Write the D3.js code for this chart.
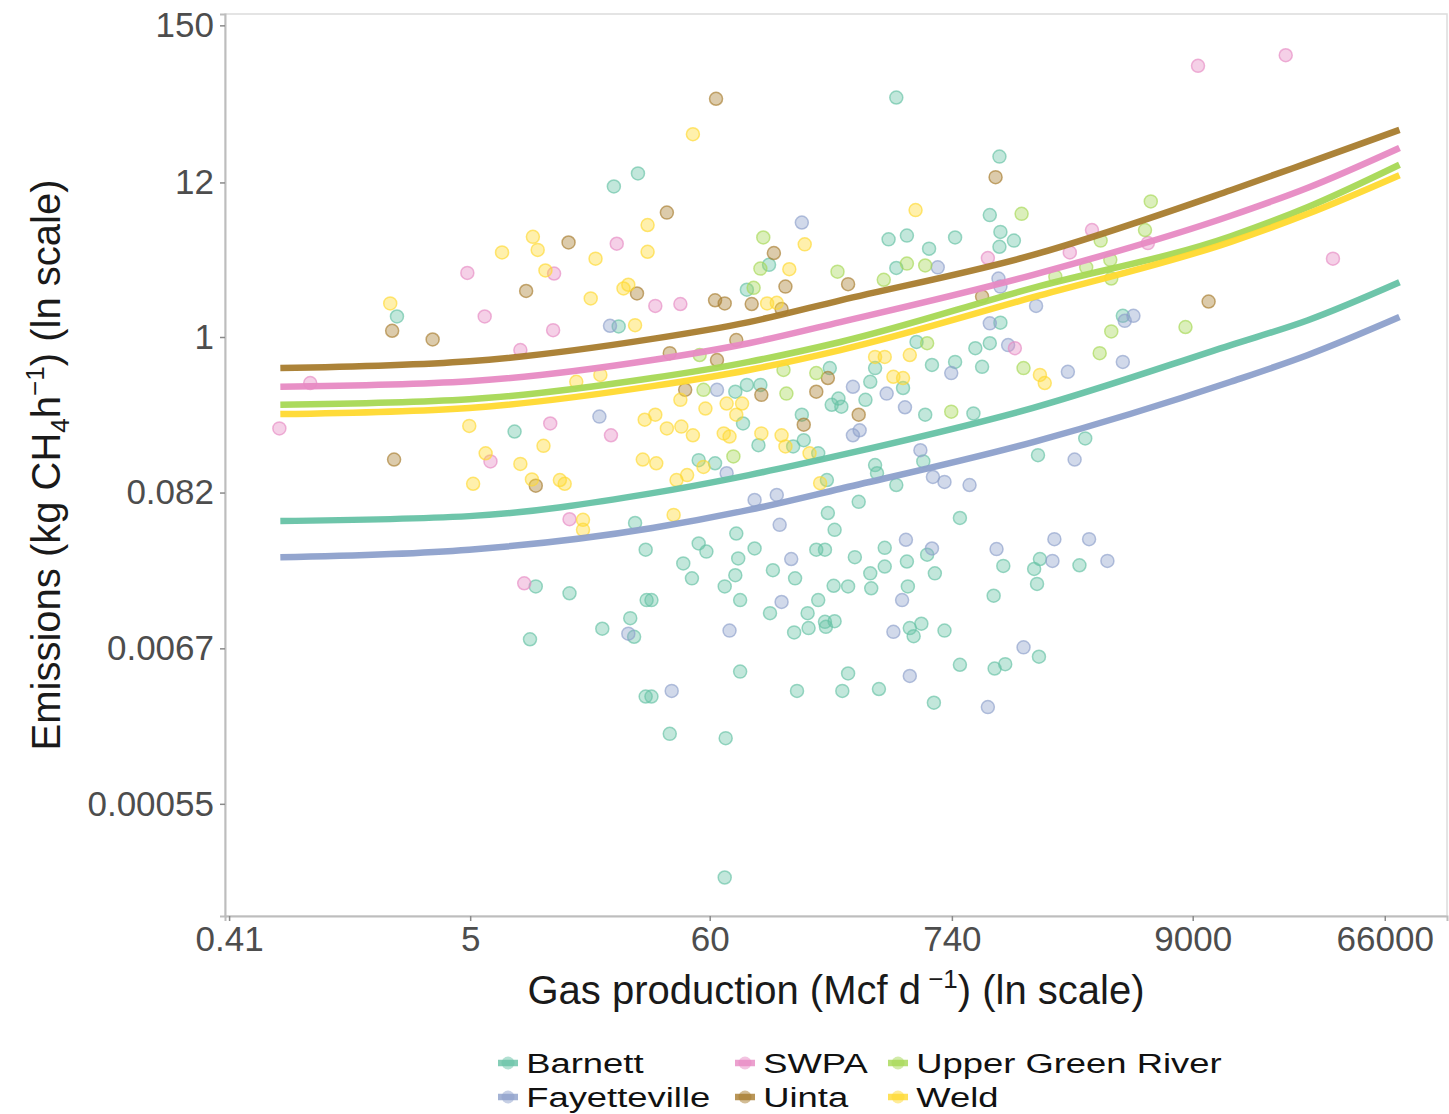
<!DOCTYPE html>
<html>
<head>
<meta charset="utf-8">
<script src="https://cdn.jsdelivr.net/npm/d3@7.9.0/dist/d3.min.js"></script>
<style>
  body { margin: 0; background: #fff; }
  svg { font-family: "Liberation Sans", Arial, sans-serif; }
</style>
</head>
<body>
<div id="chart"></div>
<script>
// basins, legend order and colours
const basins = ["Barnett", "Fayetteville", "SWPA", "Uinta", "Upper Green River", "Weld"];
const basinColors = ["#66c2a5", "#8da0cb", "#e78ac3", "#a87c2e", "#a6d854", "#ffd92f"];

// axis ticks (values shown on a ln scale)
const xTicks = [0.41, 5, 60, 740, 9000, 66000];
const xTickLabels = ["0.41", "5", "60", "740", "9000", "66000"];
const yTicks = [0.00055, 0.0067, 0.082, 1, 12, 150];
const yTickLabels = ["0.00055", "0.0067", "0.082", "1", "12", "150"];

// observations: [ln gas production, ln emissions]
const barnett = [[3.35,2.63],[3.10,2.42],[0.85,0.33],[3.15,0.17],[2.07,-1.52],[3.32,-2.99],[3.43,-3.42],[2.29,-4.01],[2.64,-4.12],[3.44,-4.23],[2.23,-4.86],[2.98,-4.69],[3.27,-4.52],[3.31,-4.82],[3.43,-5.78],[6.03,3.85],[7.10,2.90],[7.00,1.96],[4.71,1.16],[5.95,1.57],[6.14,1.63],[6.64,1.60],[7.11,1.69],[7.10,1.45],[7.25,1.55],[6.37,1.42],[6.03,1.11],[4.48,0.76],[7.11,0.23],[6.85,-0.18],[7.00,-0.10],[6.40,-0.45],[6.64,-0.40],[6.92,-0.48],[6.24,-0.08],[5.81,-0.50],[5.76,-0.72],[6.10,-0.82],[5.71,-1.01],[6.33,-1.25],[6.83,-1.23],[5.34,-0.50],[5.43,-0.99],[5.36,-1.09],[5.46,-1.12],[4.62,-0.77],[4.48,-0.77],[4.36,-0.88],[4.44,-1.39],[5.05,-1.25],[4.60,-1.74],[4.96,-1.76],[5.07,-1.66],[5.22,-1.87],[3.98,-1.98],[4.15,-2.03],[5.31,-2.30],[5.81,-2.06],[5.83,-2.19],[6.31,-2.00],[6.03,-2.38],[5.64,-2.65],[5.32,-2.83],[5.39,-3.10],[6.69,-2.91],[4.37,-3.16],[3.98,-3.32],[4.06,-3.45],[4.56,-3.40],[4.39,-3.56],[3.82,-3.64],[3.91,-3.88],[4.36,-3.83],[4.25,-4.01],[4.75,-3.75],[4.98,-3.88],[5.20,-3.42],[5.29,-3.42],[5.60,-3.54],[5.91,-3.39],[5.91,-3.69],[5.76,-3.80],[6.14,-3.61],[6.35,-3.50],[6.43,-3.80],[7.14,-3.68],[5.38,-4.00],[5.53,-4.01],[5.77,-4.04],[6.15,-4.01],[7.04,-4.16],[4.41,-4.23],[5.22,-4.23],[3.49,-4.23],[4.72,-4.44],[5.11,-4.44],[4.97,-4.75],[5.12,-4.68],[5.29,-4.58],[5.39,-4.57],[5.30,-4.66],[6.17,-4.68],[6.29,-4.61],[6.21,-4.81],[6.53,-4.72],[4.41,-5.38],[5.53,-5.41],[6.69,-5.27],[7.05,-5.33],[7.16,-5.26],[3.49,-5.78],[5.00,-5.69],[5.47,-5.69],[5.85,-5.66],[6.42,-5.88],[3.68,-6.38],[4.26,-6.45],[4.25,-8.69],[7.99,-1.63],[7.50,-1.90],[7.52,-3.57],[7.93,-3.67],[7.46,-3.73],[7.49,-3.97],[7.51,-5.14],[8.38,0.34]];
const fayetteville = [[3.06,0.18],[2.95,-1.28],[5.05,1.84],[6.46,1.12],[7.09,0.94],[7.11,0.81],[7.48,0.50],[8.49,0.34],[7.00,0.22],[7.19,-0.13],[6.60,-0.58],[5.58,-0.80],[5.93,-0.91],[6.12,-1.13],[4.17,-0.85],[5.58,-1.58],[5.65,-1.50],[4.27,-2.19],[6.28,-1.82],[6.53,-2.33],[6.79,-2.38],[6.41,-2.25],[4.56,-2.62],[4.79,-2.54],[4.82,-3.02],[4.94,-3.57],[6.13,-3.26],[6.40,-3.40],[7.07,-3.41],[4.84,-4.26],[6.09,-4.23],[4.30,-4.72],[6.00,-4.74],[7.35,-4.99],[6.17,-5.45],[3.70,-5.69],[6.98,-5.95],[8.40,0.26],[8.38,-0.40],[7.81,-0.56],[7.88,-1.97],[7.67,-3.25],[8.03,-3.25],[7.65,-3.60],[8.22,-3.60],[3.25,-4.77]];
const swpa = [[3.13,1.50],[1.58,1.03],[2.48,1.02],[1.76,0.33],[2.47,0.11],[2.13,-0.21],[-0.05,-0.74],[-0.37,-1.47],[2.44,-1.39],[3.07,-1.58],[1.82,-2.00],[2.64,-2.93],[2.17,-3.96],[6.98,1.27],[3.53,0.50],[3.79,0.53],[9.16,4.36],[10.07,4.53],[8.06,1.72],[8.64,1.51],[7.83,1.36],[10.56,1.26],[7.26,-0.18]];
const uinta = [[2.63,1.52],[2.19,0.74],[3.34,0.70],[0.80,0.10],[1.22,-0.04],[0.82,-1.97],[2.29,-2.39],[4.16,3.83],[7.06,2.57],[3.65,2.00],[4.76,1.35],[5.53,0.85],[4.88,0.81],[4.15,0.59],[4.25,0.54],[4.53,0.53],[4.84,0.45],[6.92,0.65],[9.27,0.57],[5.32,-0.66],[5.20,-0.88],[5.64,-1.25],[4.63,-0.93],[3.84,-0.85],[3.68,-0.26],[4.17,-0.37],[4.37,-0.05],[5.07,-1.41]];
const upperGreenRiver = [[7.33,1.98],[4.65,1.60],[4.62,1.10],[5.42,1.05],[6.14,1.18],[6.33,1.15],[4.55,0.79],[5.90,0.92],[8.67,2.18],[8.15,1.55],[8.61,1.72],[8.25,1.24],[8.00,1.12],[7.68,0.97],[8.26,0.94],[7.35,-0.50],[6.35,-0.10],[5.20,-0.58],[4.89,-0.91],[4.03,-0.85],[3.99,-0.29],[4.86,-0.53],[6.60,-1.20],[4.34,-1.92],[8.26,0.09],[9.03,0.16],[8.14,-0.26]];
const weld = [[2.26,1.61],[2.31,1.40],[1.94,1.36],[2.91,1.26],[3.45,1.80],[3.45,1.37],[2.39,1.07],[2.86,0.62],[3.20,0.78],[3.25,0.84],[0.78,0.54],[3.32,0.19],[1.60,-1.43],[3.42,-1.33],[2.37,-1.75],[1.77,-1.87],[2.13,-2.04],[3.40,-1.97],[1.64,-2.36],[2.25,-2.29],[2.54,-2.30],[2.59,-2.36],[2.78,-2.94],[2.78,-3.10],[2.71,-0.72],[2.96,-0.61],[3.92,3.26],[6.23,2.04],[5.08,1.49],[4.92,1.09],[4.69,0.54],[4.79,0.55],[5.81,-0.32],[5.91,-0.32],[6.17,-0.29],[6.00,-0.64],[6.10,-0.66],[3.79,-1.01],[4.05,-1.15],[4.27,-1.07],[4.43,-1.07],[4.37,-1.25],[3.53,-1.25],[3.65,-1.47],[3.80,-1.44],[3.92,-1.58],[4.24,-1.55],[4.30,-1.60],[4.63,-1.55],[4.84,-1.58],[4.88,-1.76],[5.13,-1.87],[3.54,-2.03],[4.03,-2.09],[3.75,-2.30],[3.86,-2.22],[5.24,-2.35],[3.72,-2.86],[7.52,-0.61],[7.57,-0.74]];

// fitted curves, ln emissions at these ln gas values
const fitGas = [-0.36, 1.6, 3.5, 4.5, 5.45, 7.45, 9.5, 10.3, 11.25];
const fitBarnett = [-2.96, -2.88, -2.51, -2.22, -1.90, -1.14, -0.13, 0.27, 0.88];
const fitFayetteville = [-3.54, -3.42, -3.07, -2.78, -2.44, -1.69, -0.72, -0.29, 0.32];
const fitSWPA = [-0.80, -0.71, -0.37, -0.10, 0.24, 1.00, 1.95, 2.40, 3.04];
const fitUinta = [-0.50, -0.39, -0.03, 0.24, 0.59, 1.32, 2.36, 2.80, 3.33];
const fitUpperGreenRiver = [-1.09, -1.00, -0.66, -0.40, -0.08, 0.79, 1.62, 2.09, 2.77];
const fitWeld = [-1.24, -1.14, -0.79, -0.53, -0.21, 0.64, 1.53, 1.98, 2.60];

const points = [barnett, fayetteville, swpa, uinta, upperGreenRiver, weld];
const fits = [fitBarnett, fitFayetteville, fitSWPA, fitUinta, fitUpperGreenRiver, fitWeld];

const width = 1449, height = 1114;
const margin = { top: 14, right: 2, bottom: 198, left: 225 };

const svg = d3.select('#chart').append('svg')
  .attr('width', width)
  .attr('height', height);

const x = d3.scaleLinear().domain([-0.934, 11.743]).range([margin.left, width - margin.right]);
const y = d3.scaleLinear().domain([-9.309, 5.193]).range([height - margin.bottom, margin.top]);

const color = d3.scaleOrdinal().domain(basins).range(basinColors);

// light panel border (top / right)
svg.append('rect')
  .attr('x', margin.left)
  .attr('y', margin.top)
  .attr('width', width - margin.right - margin.left)
  .attr('height', height - margin.bottom - margin.top)
  .attr('fill', 'none')
  .attr('stroke', '#dcdcdc')
  .attr('stroke-width', 1.5);

// scatter
basins.forEach((b, i) => {
  svg.append('g')
    .selectAll('circle')
    .data(points[i])
    .join('circle')
    .attr('cx', d => x(d[0]))
    .attr('cy', d => y(d[1]))
    .attr('r', 6.5)
    .attr('fill', color(b))
    .attr('fill-opacity', 0.4)
    .attr('stroke', color(b))
    .attr('stroke-opacity', 0.65)
    .attr('stroke-width', 1.5);
});

// fitted lines
const line = d3.line()
  .x((d, i) => x(fitGas[i]))
  .y(d => y(d))
  .curve(d3.curveMonotoneX);

basins.forEach((b, i) => {
  svg.append('path')
    .attr('d', line(fits[i]))
    .attr('fill', 'none')
    .attr('stroke', color(b))
    .attr('stroke-width', 6.5)
    .attr('stroke-opacity', 0.95);
});

// axes
const xAxis = svg.append('g')
  .attr('transform', `translate(0,${height - margin.bottom})`)
  .call(d3.axisBottom(x)
    .tickValues(xTicks.map(Math.log))
    .tickFormat((d, i) => xTickLabels[i])
    .tickSize(5)
    .tickPadding(5));

const yAxis = svg.append('g')
  .attr('transform', `translate(${margin.left},0)`)
  .call(d3.axisLeft(y)
    .tickValues(yTicks.map(Math.log))
    .tickFormat((d, i) => yTickLabels[i])
    .tickSize(5)
    .tickPadding(6));

[xAxis, yAxis].forEach(g => {
  g.select('.domain').attr('stroke', '#bdbdbd').attr('stroke-width', 2);
  g.selectAll('.tick line').attr('stroke', '#8a8a8a').attr('stroke-width', 1.5);
  g.selectAll('.tick text')
    .attr('fill', '#4d4d4d')
    .style('font-size', '35px')
    .style('font-family', '"Liberation Sans", Arial, sans-serif');
});

// axis titles
const xTitle = svg.append('text')
  .attr('x', (margin.left + width - margin.right) / 2)
  .attr('y', 1004)
  .attr('text-anchor', 'middle')
  .attr('fill', '#1a1a1a')
  .style('font-size', '40px');
xTitle.append('tspan').text('Gas production (Mcf d');
xTitle.append('tspan').attr('dy', -16).style('font-size', '26px').text(' \u22121');
xTitle.append('tspan').attr('dy', 16).text(') (ln scale)');

const yTitle = svg.append('text')
  .attr('transform', `translate(60,${(margin.top + height - margin.bottom) / 2}) rotate(-90)`)
  .attr('text-anchor', 'middle')
  .attr('fill', '#1a1a1a')
  .style('font-size', '40px');
yTitle.append('tspan').text('Emissions (kg CH');
yTitle.append('tspan').attr('dy', 9).style('font-size', '26px').text('4');
yTitle.append('tspan').attr('dy', -9).text('h');
yTitle.append('tspan').attr('dy', -16).style('font-size', '26px').text('\u22121');
yTitle.append('tspan').attr('dy', 16).text(') (ln scale)');

// legend: 3 columns x 2 rows, filled by column (wide, short text like the original)
const legendCols = [508, 745, 898];
const legendRows = [1063, 1097];
const legend = svg.append('g');
basins.forEach((b, i) => {
  const cx = legendCols[Math.floor(i / 2)];
  const cy = legendRows[i % 2];
  const item = legend.append('g').attr('transform', `translate(${cx},${cy})`);
  item.append('line')
    .attr('x1', -10).attr('x2', 10)
    .attr('stroke', color(b))
    .attr('stroke-width', 6.5)
    .attr('stroke-opacity', 0.8);
  item.append('circle')
    .attr('r', 6.5)
    .attr('fill', color(b))
    .attr('fill-opacity', 0.5);
  item.append('text')
    .attr('x', 14)
    .attr('y', 10)
    .attr('fill', '#111')
    .style('font-size', '28px')
    .attr('transform', 'scale(1.3,1)')
    .text(b);
});
</script>
</body>
</html>
